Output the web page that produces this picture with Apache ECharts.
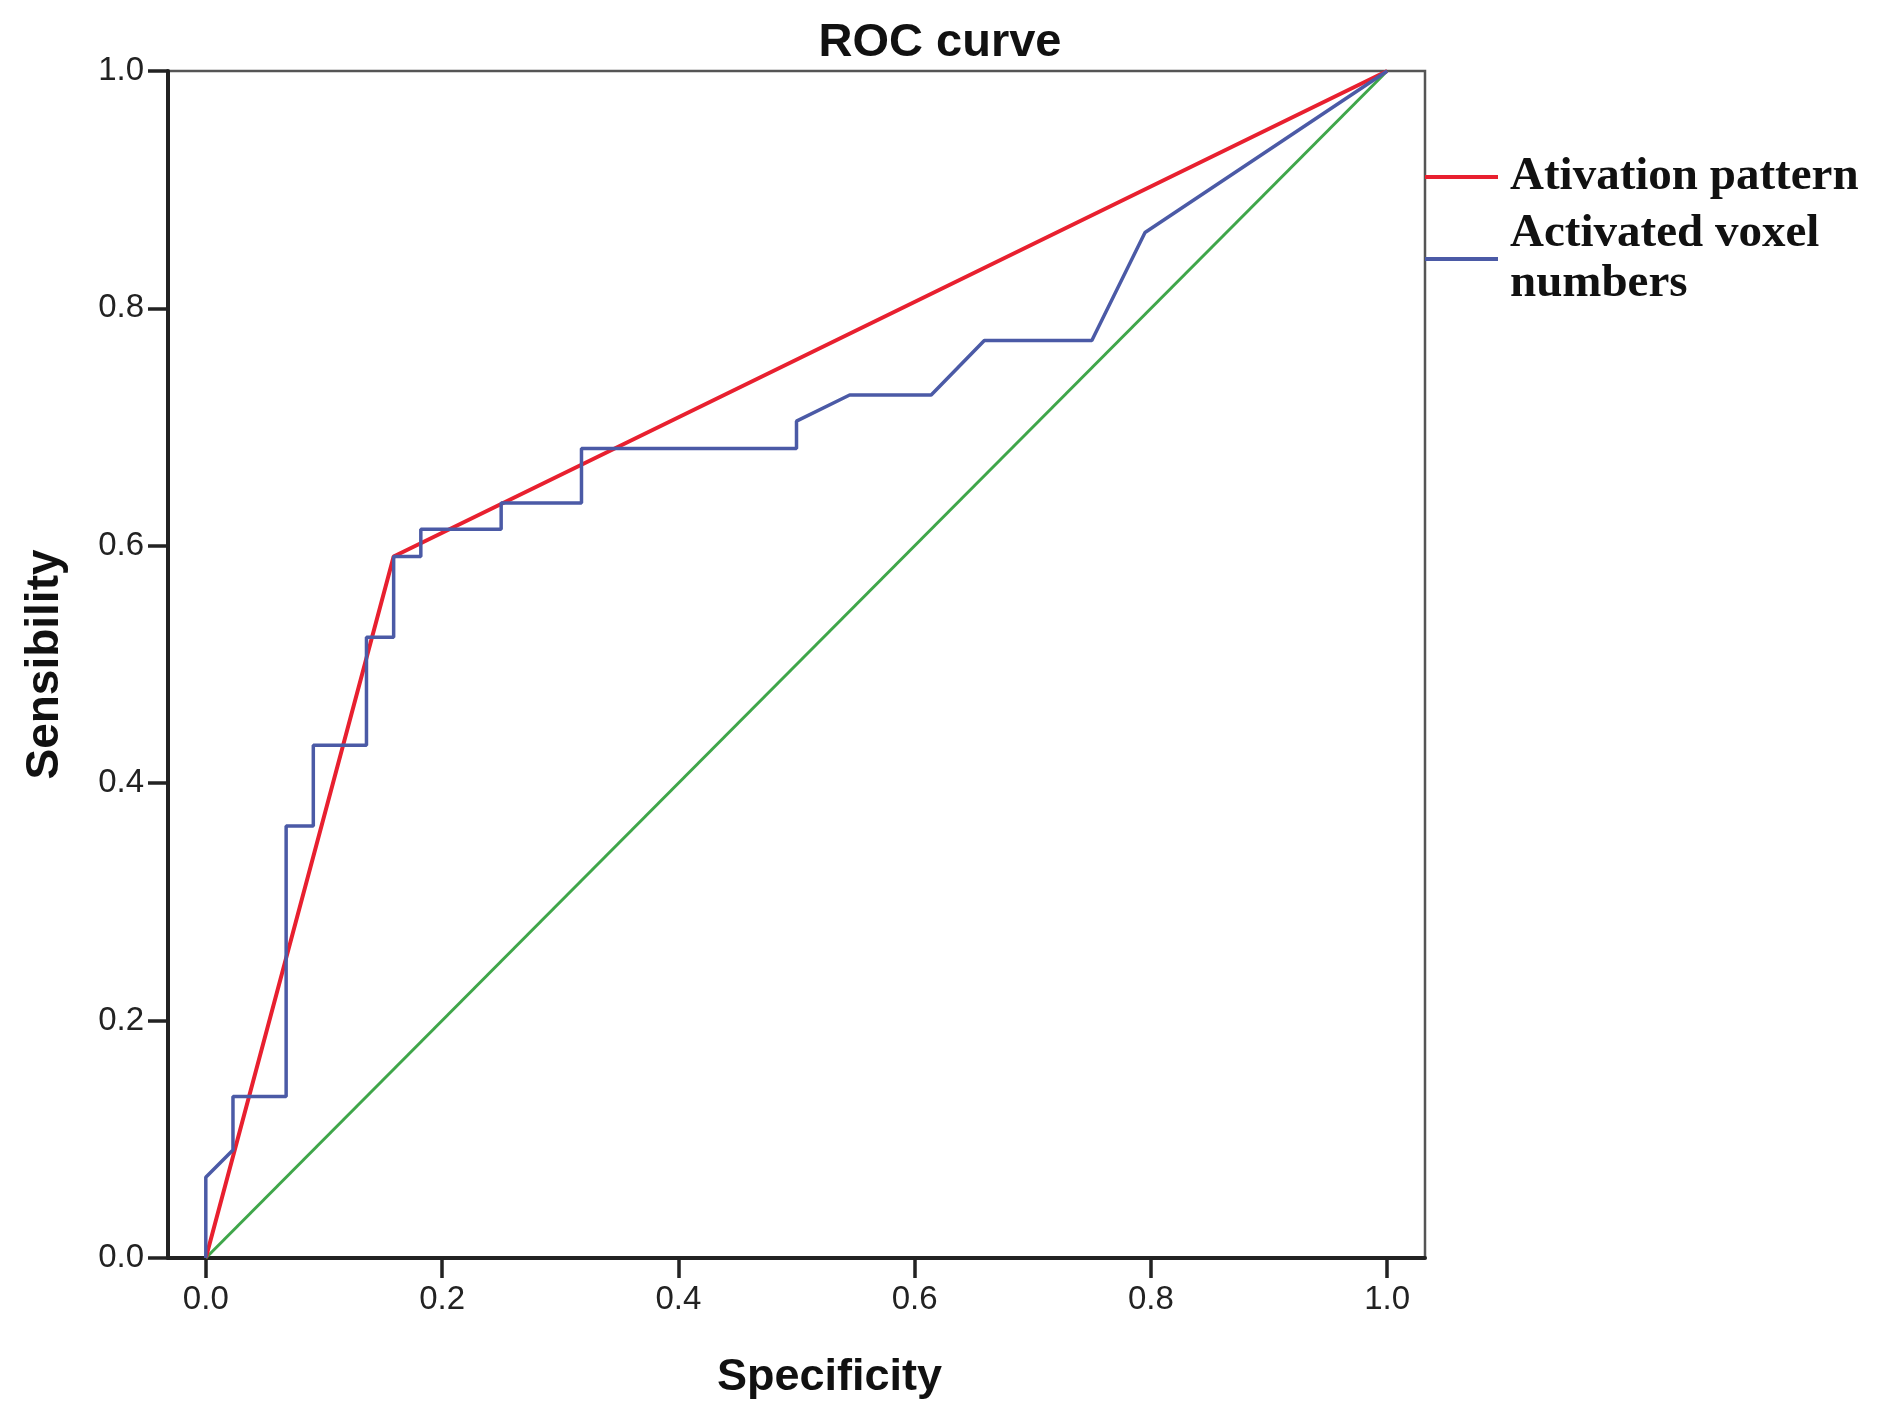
<!DOCTYPE html>
<html>
<head>
<meta charset="utf-8">
<script src="https://cdn.jsdelivr.net/npm/echarts@6/dist/echarts.min.js"></script>
<style>
html,body{margin:0;padding:0;background:#fff;}
#chart{width:1880px;height:1423px;}
</style>
</head>
<body>
<div id="chart"></div>
<script>
var chartTitle = 'ROC curve';
var xName = 'Specificity';
var yName = 'Sensibility';
var seriesNames = ['Ativation pattern', 'Activated voxel numbers'];
var xTicks = [0, 0.2, 0.4, 0.6, 0.8, 1.0];

var redX = [0, 0.159, 1];
var redY = [0, 0.591, 1];

var blueX = [0, 0, 0.023, 0.023, 0.068, 0.068, 0.091, 0.091, 0.136, 0.136, 0.159, 0.159, 0.182, 0.182, 0.25, 0.25, 0.318, 0.318, 0.5, 0.5, 0.545, 0.614, 0.659, 0.75, 0.795, 1];
var blueY = [0, 0.068, 0.091, 0.136, 0.136, 0.364, 0.364, 0.432, 0.432, 0.523, 0.523, 0.591, 0.591, 0.614, 0.614, 0.636, 0.636, 0.682, 0.682, 0.705, 0.727, 0.727, 0.773, 0.773, 0.864, 1];

var refX = [0, 1];
var refY = [0, 1];

function pairs(xs, ys) { return xs.map(function (x, i) { return [x, ys[i]]; }); }

var chart = echarts.init(document.getElementById('chart'));
chart.setOption({
  animation: false,
  backgroundColor: '#fff',
  title: {
    text: chartTitle,
    left: 'center',
    top: 19,
    padding: 0,
    textStyle: { fontFamily: 'Liberation Sans', fontWeight: 'bold', fontSize: 47, lineHeight: 48, color: '#111' }
  },
  legend: {
    orient: 'vertical',
    left: 1425,
    top: 152,
    padding: 0,
    itemGap: 7,
    itemWidth: 73,
    itemHeight: 4,
    icon: 'rect',
    data: seriesNames,
    formatter: function (n) { return n === 'Activated voxel numbers' ? 'Activated voxel\nnumbers' : n; },
    textStyle: { fontFamily: 'Liberation Serif', fontWeight: 'bold', fontSize: 47, lineHeight: 50, color: '#111', padding: [0, 0, 0, 7] }
  },
  grid: {
    left: 161, right: 455, top: 71, bottom: 165,
    show: true, borderColor: '#555', borderWidth: 2.5, backgroundColor: '#fff'
  },
  xAxis: {
    type: 'value',
    min: -0.032, max: 1.032,
    name: xName,
    nameLocation: 'middle',
    nameGap: 97,
    nameTextStyle: { fontFamily: 'Liberation Sans', fontWeight: 'bold', fontSize: 45, lineHeight: 45, color: '#111', padding: [0, 0, 0, 66] },
    axisLine: { show: true, onZero: false, lineStyle: { color: '#222', width: 4 } },
    axisTick: { show: true, length: 20, lineStyle: { color: '#222', width: 3.5 }, customValues: xTicks },
    axisLabel: { margin: 25, fontFamily: 'Liberation Sans', fontSize: 33, color: '#222', customValues: xTicks,
      formatter: function (v) { return v.toFixed(1); } },
    splitLine: { show: false }
  },
  yAxis: {
    type: 'value',
    min: 0, max: 1, interval: 0.2,
    name: yName,
    nameLocation: 'middle',
    nameGap: 100,
    nameTextStyle: { fontFamily: 'Liberation Sans', fontWeight: 'bold', fontSize: 46, lineHeight: 46, color: '#111', padding: [14, 0, 0, 0] },
    axisLine: { show: true, onZero: false, lineStyle: { color: '#222', width: 4 } },
    axisTick: { show: true, length: 20, lineStyle: { color: '#222', width: 3.5 } },
    axisLabel: { margin: 24, fontFamily: 'Liberation Sans', fontSize: 33, color: '#222',
      formatter: function (v) { return v.toFixed(1); } },
    splitLine: { show: false }
  },
  series: [
    { name: 'Reference', type: 'line', data: pairs(refX, refY), symbol: 'none', lineStyle: { color: '#3fa64a', width: 3 }, itemStyle: { color: '#3fa64a' } },
    { name: seriesNames[0], type: 'line', data: pairs(redX, redY), symbol: 'none', lineStyle: { color: '#e8202f', width: 4 }, itemStyle: { color: '#e8202f' } },
    { name: seriesNames[1], type: 'line', data: pairs(blueX, blueY), symbol: 'none', lineStyle: { color: '#4b5aa6', width: 3.5 }, itemStyle: { color: '#4b5aa6' } }
  ]
});
</script>
</body>
</html>
